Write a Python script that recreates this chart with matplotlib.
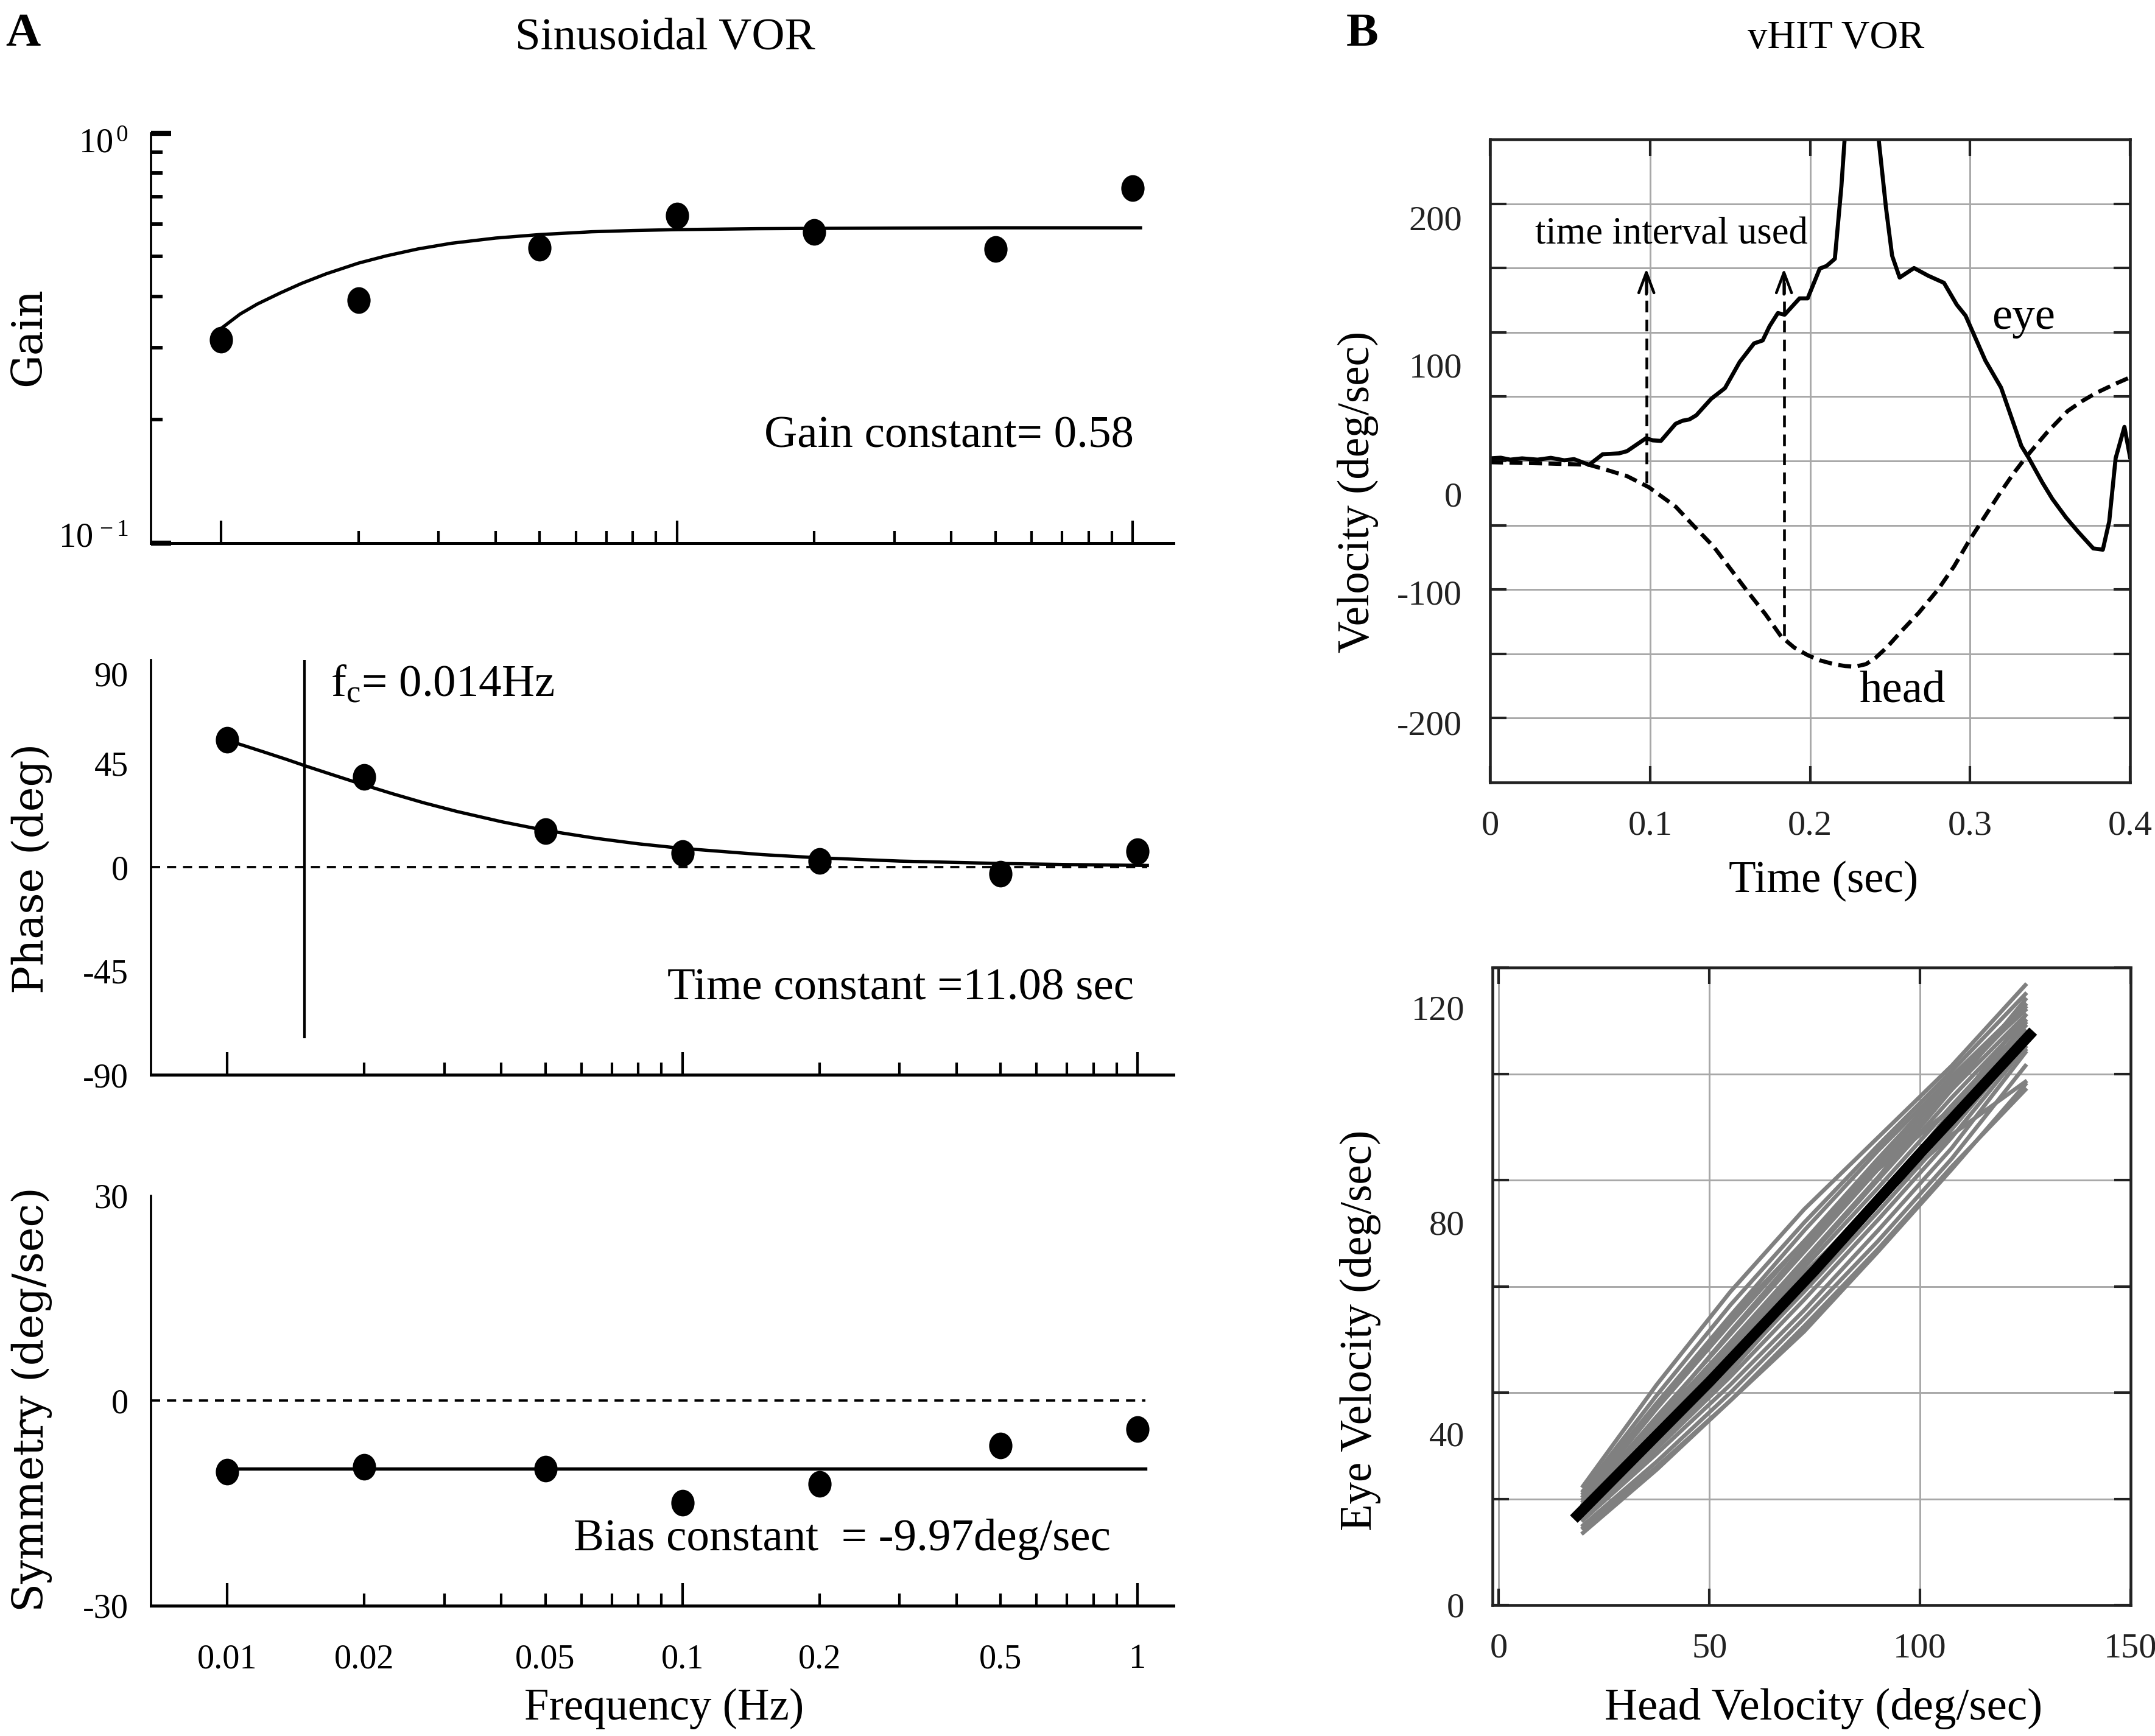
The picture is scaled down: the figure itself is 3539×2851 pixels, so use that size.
import matplotlib
matplotlib.use('Agg')
import matplotlib.pyplot as plt
from matplotlib.path import Path
from matplotlib.transforms import ScaledTranslation
from matplotlib.ticker import FixedLocator, FixedFormatter, NullFormatter

# ---- panel A : sinusoidal VOR ----
freq = [0.01, 0.02, 0.05, 0.1, 0.2, 0.5, 1.0]
gain = [0.313, 0.391, 0.526, 0.630, 0.574, 0.522, 0.736]
phase = [55.4, 39.3, 15.8, 6.3, 2.8, -2.9, 7.0]
symmetry = [-10.4, -9.7, -10.0, -15.0, -12.2, -6.6, -4.2]

# fitted curves
fit_f = [0.01, 0.011, 0.012, 0.0135, 0.015, 0.017, 0.02, 0.023, 0.027, 0.032, 0.04,
         0.05, 0.065, 0.08, 0.1, 0.15, 0.2, 0.3, 0.5, 0.7, 1.05]
fit_gain = [0.334, 0.362, 0.383, 0.408, 0.43, 0.454, 0.482, 0.502, 0.522, 0.539, 0.555,
            0.566, 0.575, 0.579, 0.582, 0.585, 0.586, 0.587, 0.588, 0.588, 0.588]
fit_phase = [55.1, 52.5, 50.1, 46.8, 43.7, 40.2, 35.7, 32.0, 28.0, 24.2, 19.8,
             16.0, 12.5, 10.2, 8.2, 5.5, 4.1, 2.7, 1.65, 1.2, 0.8]
bias_f = [0.01, 1.04]
bias = [-9.97, -9.97]
fc = 0.0148

# ---- panel B : vHIT ----
eye_t = [0, 0.0067, 0.0126, 0.020, 0.0297, 0.038, 0.0464, 0.0525, 0.0619, 0.0704, 0.0806, 0.0856,
         0.0975, 0.1017, 0.1068, 0.116, 0.1204, 0.1246, 0.1289, 0.1382, 0.1468, 0.156, 0.165, 0.1704,
         0.1747, 0.1799, 0.1841, 0.1934, 0.1985, 0.2061, 0.2103, 0.2155, 0.2196, 0.2216, 0.232, 0.2429,
         0.2475, 0.2513, 0.256, 0.265, 0.2739, 0.2837, 0.2917, 0.2972, 0.3096, 0.3194, 0.3321, 0.3368,
         0.3453, 0.3515, 0.36, 0.3675, 0.377, 0.383, 0.387, 0.391, 0.3965, 0.4]
eye_v = [2, 2.5, 1, 2, 1, 2.4, 0.5, 1.4, -3, 5.2, 5.9, 7.6,
         17.7, 16, 15.6, 28.9, 31.3, 32.3, 35.5, 48.3, 56.6, 76.9, 91.4, 93.7,
         104.8, 115, 113.7, 126.4, 126.4, 149.6, 151.6, 157.2, 213.5, 250, 330, 250,
         196.5, 159.6, 142.6, 150, 144, 138.5, 121.5, 113, 78, 57, 11.6, 2.1,
         -17, -29.6, -44, -55, -68, -69, -47, 2.1, 26.5, 3]
head_t = [0, 0.036, 0.0619, 0.0704, 0.0856, 0.0992, 0.116, 0.126, 0.14, 0.16, 0.172, 0.182,
          0.19, 0.1985, 0.206, 0.2148, 0.222, 0.228, 0.235, 0.241, 0.248, 0.257, 0.268, 0.28,
          0.29, 0.299, 0.3088, 0.319, 0.327, 0.3352, 0.348, 0.361, 0.37, 0.3787, 0.39, 0.4]
head_v = [-1, -2, -3, -6, -11.8, -20.4, -35.5, -48.8, -67, -100, -119, -136.6,
          -145, -151, -155, -158, -159.5, -160, -158, -153, -145, -132.5, -118, -100,
          -82, -63, -44, -24.5, -10, 3.3, 22, 38.8, 46.5, 52.8, 59.5, 65]
arrow_t = [0.0977, 0.1837]
arrow_from = [-17, -136]
arrow_to = 149.6

head_x = [20, 37.5, 55, 72.5, 90, 107.5, 125]
trials = [
    [22.4, 41.5, 59.0, 74.5, 88.0, 101.5, 116.7],
    [21.5, 39.5, 56.5, 72.0, 86.5, 100.5, 115.0],
    [20.5, 38.0, 54.5, 70.5, 85.5, 99.5, 113.0],
    [20.0, 37.0, 53.0, 68.5, 84.0, 99.0, 112.0],
    [19.5, 35.5, 51.0, 66.5, 82.0, 97.0, 111.0],
    [19.0, 34.5, 49.5, 64.5, 80.0, 95.5, 110.0],
    [18.5, 33.5, 48.5, 63.5, 78.5, 94.0, 109.0],
    [18.0, 32.5, 47.0, 62.0, 77.0, 92.5, 108.0],
    [17.5, 31.5, 46.0, 61.0, 76.0, 92.0, 109.5],
    [17.0, 30.5, 44.5, 59.0, 74.0, 89.5, 106.0],
    [16.5, 29.5, 43.0, 57.5, 72.5, 88.0, 105.0],
    [16.0, 28.5, 41.5, 55.5, 70.5, 86.0, 104.0],
    [15.0, 27.0, 40.0, 54.0, 68.5, 84.0, 101.5],
    [14.5, 26.0, 38.5, 52.5, 67.0, 82.5, 97.0],
    [13.6, 25.5, 38.5, 51.5, 66.5, 82.0, 98.0],
    [17.5, 33.0, 48.0, 62.5, 76.0, 88.5, 98.5],
    [21.0, 38.0, 54.0, 68.5, 82.0, 93.5, 104.5],
    [18.5, 34.0, 49.5, 65.0, 80.5, 97.0, 114.0],
    [16.0, 29.5, 44.0, 59.5, 76.0, 93.0, 111.0],
    [19.0, 35.0, 51.5, 67.5, 83.0, 98.0, 112.5],
]
mean_x = [18.7, 50, 75, 100, 126]
mean_y = [16.9, 42.0, 63.0, 85.0, 107.3]

plt.rcParams['font.family'] = ['Liberation Serif', 'DejaVu Serif']
plt.rcParams['mathtext.fontset'] = 'custom'
plt.rcParams['mathtext.rm'] = 'Liberation Serif'
plt.rcParams['mathtext.it'] = 'Liberation Serif:italic'
plt.rcParams['axes.unicode_minus'] = False

W, H = 1568.0, 1263.0  # layout measured on the reduced picture
fig = plt.figure(figsize=(3539 / 300, 2851 / 300), dpi=300)

circ = Path.unit_circle()
dot = Path(circ.vertices * [0.86, 1.0], circ.codes)

major_f = [0.01, 0.1, 1.0]
minor_f = [m * d for d in (0.01, 0.1) for m in range(2, 10)]
TICK = 13.5
LAB = 17.5


def freq_axis(ax, xlim, labels=False):
    ax.set_xscale('log')
    ax.set_xlim(*xlim)
    ax.xaxis.set_major_locator(FixedLocator(major_f))
    ax.xaxis.set_minor_locator(FixedLocator(minor_f))
    if labels:
        ax.xaxis.set_major_formatter(FixedFormatter(['0.01', '0.1', '1']))
        mlab = ['' for _ in minor_f]
        mlab[0], mlab[3], mlab[8], mlab[11] = '0.02', '0.05', '0.2', '0.5'
        ax.xaxis.set_minor_formatter(FixedFormatter(mlab))
    else:
        ax.xaxis.set_major_formatter(NullFormatter())
        ax.xaxis.set_minor_formatter(NullFormatter())
    for s in ['top', 'right']:
        ax.spines[s].set_visible(False)
    ax.spines['bottom'].set_linewidth(1.2)
    ax.spines['left'].set_linewidth(0.9)
    ax.tick_params(axis='x', which='major', direction='in', length=9, width=1.0, pad=15, labelsize=TICK)
    ax.tick_params(axis='x', which='minor', direction='in', length=4.8, width=1.0, pad=15, labelsize=TICK)
    ax.tick_params(axis='y', which='both', direction='in', labelsize=TICK, pad=9)


def shift_ylabels(ax, shifts):
    # move some y tick labels down by a few (reduced-picture) pixels, as in the original
    for val, tick in zip(ax.get_yticks(), ax.yaxis.get_major_ticks()):
        for key, px in shifts.items():
            if abs(val - key) < 1e-9:
                off = ScaledTranslation(0, -px * 0.5417 / 72, fig.dpi_scale_trans)
                tick.label1.set_transform(tick.label1.get_transform() + off)


# gain
axG = fig.add_axes([110 / W, 1 - 395 / H, 744 / W, 298 / H])
freq_axis(axG, (0.00702, 1.23))
axG.set_yscale('log')
axG.set_ylim(0.1, 1.0)
axG.yaxis.set_major_locator(FixedLocator([0.1, 1.0]))
axG.yaxis.set_major_formatter(FixedFormatter(['$\\mathregular{10^{\\,-1}}$', '$\\mathregular{10^{\\,0}}$']))
axG.yaxis.set_minor_locator(FixedLocator([0.2, 0.3, 0.4, 0.5, 0.6, 0.7, 0.8, 0.9]))
axG.yaxis.set_minor_formatter(NullFormatter())
axG.tick_params(axis='y', which='major', length=8, width=2)
axG.tick_params(axis='y', which='minor', length=4.5, width=1.4)
axG.plot(fit_f[:-1] + [1.04], fit_gain, color='k', lw=1.3)
axG.plot(freq, gain, ls='none', marker=dot, ms=9.5, color='k', clip_on=False)
axG.text(0.961, 0.26, 'Gain constant= 0.58', transform=axG.transAxes, ha='right', va='center', fontsize=18)

# phase
axP = fig.add_axes([110 / W, 1 - 782 / H, 744 / W, 302 / H])
freq_axis(axP, (0.00681, 1.2))
axP.set_ylim(-90, 90)
axP.yaxis.set_major_locator(FixedLocator([-90, -45, 0, 45, 90]))
axP.yaxis.set_major_formatter(FixedFormatter(['-90', '-45', '0', '45', '90']))
axP.yaxis.set_minor_locator(FixedLocator([-45, 45]))
axP.tick_params(axis='y', which='major', length=0)
axP.tick_params(axis='y', which='minor', length=8, width=1.4)
axP.plot([axP.get_xlim()[0], 1.05], [0, 0], color='k', lw=0.9, ls=(0, (4, 3)))
axP.plot([fc, fc], [-73.5, 90], color='k', lw=1.0)
axP.plot(fit_f, fit_phase, color='k', lw=1.3)
axP.plot(freq, phase, ls='none', marker=dot, ms=9.5, color='k', clip_on=False)
axP.text(fc * 1.14, 79, '$\\mathregular{f_c}$= 0.014Hz', ha='left', va='center', fontsize=18)
axP.text(0.961, 0.207, 'Time constant =11.08 sec', transform=axP.transAxes, ha='right', va='center', fontsize=18)

# symmetry
axS = fig.add_axes([110 / W, 1 - 1168 / H, 744 / W, 298 / H])
freq_axis(axS, (0.00681, 1.2), labels=True)
axS.set_ylim(-30, 30)
axS.yaxis.set_major_locator(FixedLocator([-30, 0, 30]))
axS.yaxis.set_major_formatter(FixedFormatter(['-30', '0', '30']))
axS.yaxis.set_minor_locator(FixedLocator([0]))
axS.tick_params(axis='y', which='major', length=0)
axS.tick_params(axis='y', which='minor', length=4, width=2.5)
axS.plot([axS.get_xlim()[0], 1.04], [0, 0], color='k', lw=0.9, ls=(0, (4, 3)))
axS.plot(bias_f, bias, color='k', lw=1.3)
axS.plot(freq, symmetry, ls='none', marker=dot, ms=9.5, color='k', clip_on=False)
axS.text(0.938, 0.161, 'Bias constant  = -9.97deg/sec', transform=axS.transAxes, ha='right', va='center', fontsize=18)

side = dict(rotation=90, ha='center', va='center', fontsize=16.5, family='DejaVu Serif')
fig.text(21 / W, 1 - 245 / H, 'Gain', **side)
fig.text(23 / W, 1 - 632 / H, 'Phase (deg)', **side)
fig.text(23 / W, 1 - 1018 / H, 'Symmetry (deg/sec)', **side)
fig.text(483 / W, 1 - 1243 / H, 'Frequency (Hz)', ha='center', va='center', fontsize=LAB)

fig.text(484 / W, 1 - 28 / H, 'Sinusoidal VOR', ha='center', va='center', fontsize=18)
fig.text(1336 / W, 1 - 28 / H, 'vHIT VOR', ha='center', va='center', fontsize=15.5)
fig.text(17 / W, 1 - 25 / H, 'A', ha='center', va='center', fontsize=19, fontweight='bold')
fig.text(991 / W, 1 - 25 / H, 'B', ha='center', va='center', fontsize=19, fontweight='bold')

# ---- panel B axes ----
dark = '#222222'
grid_c = '#a8a8a8'


def box_axis(ax):
    for s in ax.spines.values():
        s.set_linewidth(1.1)
        s.set_color(dark)
    ax.grid(True, color=grid_c, lw=0.7)
    ax.set_axisbelow(True)
    ax.tick_params(which='major', direction='in', length=6.5, width=1.0, color=dark,
                   top=True, right=True, labelsize=TICK + 0.5, labelcolor=dark, pad=11)


axT = fig.add_axes([2447 / 3539, 1 - 1285 / 2851, 1051 / 3539, 1056 / 2851])
box_axis(axT)
axT.set_xlim(0, 0.4)
axT.set_ylim(-250, 250)
axT.xaxis.set_major_locator(FixedLocator([0, 0.1, 0.2, 0.3, 0.4]))
axT.xaxis.set_major_formatter(FixedFormatter(['0', '0.1', '0.2', '0.3', '0.4']))
yt = list(range(-200, 201, 50))
axT.yaxis.set_major_locator(FixedLocator(yt))
axT.yaxis.set_major_formatter(FixedFormatter([str(v) if v % 100 == 0 else '' for v in yt]))
axT.plot(eye_t, eye_v, color='k', lw=1.6)
axT.plot(head_t, head_v, color='k', lw=1.6, ls=(0, (3.2, 1.6)))
for t, v0 in zip(arrow_t, arrow_from):
    axT.plot([t, t], [v0, arrow_to - 4], color='k', lw=1.1, ls=(0, (4.2, 2.6)))
    axT.annotate('', xy=(t, arrow_to), xytext=(t, arrow_to - 20),
                 arrowprops=dict(arrowstyle='->,head_length=0.8,head_width=0.3', lw=1.1, color='k',
                                 shrinkA=0, shrinkB=0))
axT.text(0.1132, 176, 'time interval used', ha='center', va='center', fontsize=15)
axT.text(0.3335, 111, 'eye', ha='center', va='center', fontsize=18)
axT.text(0.2577, -179, 'head', ha='center', va='center', fontsize=18)
fig.text(988 / W, 1 - 358 / H, 'Velocity (deg/sec)', rotation=90, ha='center', va='center', fontsize=LAB)
fig.text(1327 / W, 1 - 641 / H, 'Time (sec)', ha='center', va='center', fontsize=LAB)

axV = fig.add_axes([2451 / 3539, 1 - 2636 / 2851, 1048 / 3539, 1047 / 2851])
box_axis(axV)
axV.set_xlim(-1.5, 150)
axV.set_ylim(0, 120)
axV.xaxis.set_major_locator(FixedLocator([0, 50, 100, 150]))
axV.xaxis.set_major_formatter(FixedFormatter(['0', '50', '100', '150']))
yv = list(range(0, 121, 20))
axV.yaxis.set_major_locator(FixedLocator(yv))
axV.yaxis.set_major_formatter(FixedFormatter([str(v) if v % 40 == 0 else '' for v in yv]))
for tr in trials:
    axV.plot(head_x, tr, color='#808080', lw=1.6)
axV.plot(mean_x, mean_y, color='k', lw=4.2)
fig.text(990 / W, 1 - 968 / H, 'Eye Velocity (deg/sec)', rotation=90, ha='center', va='center', fontsize=LAB)
fig.text(1327 / W, 1 - 1243 / H, 'Head Velocity (deg/sec)', ha='center', va='center', fontsize=18)

# label placement quirks of the original figure
shift_ylabels(axG, {1.0: 5, 0.1: -6})
shift_ylabels(axP, {90: 10})
shift_ylabels(axT, {200: 10, 100: 24, 0: 24, -100: 2, -200: 3})
shift_ylabels(axV, {120: 29, 80: 31, 40: 30})

fig.savefig('out.png', dpi=300)
